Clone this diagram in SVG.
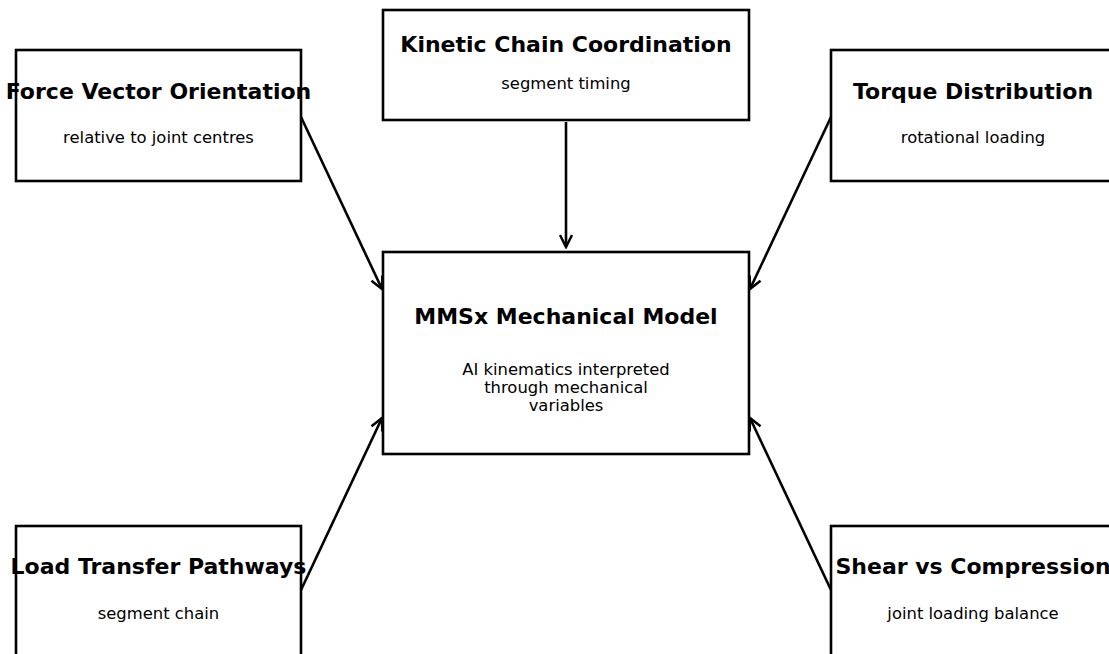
<svg xmlns="http://www.w3.org/2000/svg" width="1109" height="654" viewBox="0 0 1109 654">
<defs>
<marker id="arr" viewBox="-14 -8 16 16" markerWidth="16" markerHeight="16" refX="0" refY="0" orient="auto" markerUnits="userSpaceOnUse">
<path d="M-12,-6 L0,0 L-12,6" fill="none" stroke="#000" stroke-width="2.5"/>
</marker>
<style>
.box{fill:#fff;stroke:#000;stroke-width:2.6}
.t{font-family:"DejaVu Sans",sans-serif;font-weight:bold;font-size:22px;text-anchor:middle;fill:#000}
.s{font-family:"DejaVu Sans",sans-serif;font-size:16.4px;text-anchor:middle;fill:#000}
.c{fill:none;stroke:#000;stroke-width:2.6}
</style>
</defs>
<rect width="1109" height="654" fill="#fff"/>
<g id="connectors">
<line class="c" x1="566" y1="122" x2="566" y2="247" marker-end="url(#arr)"/>
<line class="c" x1="301" y1="117" x2="382" y2="289" marker-end="url(#arr)"/>
<line class="c" x1="831" y1="117" x2="750" y2="289" marker-end="url(#arr)"/>
<line class="c" x1="301" y1="590" x2="382" y2="418" marker-end="url(#arr)"/>
<line class="c" x1="831" y1="590" x2="750" y2="418" marker-end="url(#arr)"/>
</g>
<g id="force">
<rect class="box" x="16" y="50" width="285" height="131"/>
<text class="t" x="158.5" y="98.5">Force Vector Orientation</text>
<text class="s" x="158.5" y="142.5">relative to joint centres</text>
</g>
<g id="kinetic">
<rect class="box" x="383" y="10" width="366" height="110"/>
<text class="t" x="566" y="51.5">Kinetic Chain Coordination</text>
<text class="s" x="566" y="89">segment timing</text>
</g>
<g id="torque">
<rect class="box" x="831" y="50" width="285" height="131"/>
<text class="t" x="973" y="98.5">Torque Distribution</text>
<text class="s" x="973" y="142.5">rotational loading</text>
</g>
<g id="model">
<rect class="box" x="383" y="252" width="366" height="202"/>
<text class="t" x="566" y="323.5">MMSx Mechanical Model</text>
<text class="s" x="566" y="375">AI kinematics interpreted</text>
<text class="s" x="566" y="393">through mechanical</text>
<text class="s" x="566" y="411">variables</text>
</g>
<g id="load">
<rect class="box" x="16" y="526" width="285" height="140"/>
<text class="t" x="158.5" y="573.5">Load Transfer Pathways</text>
<text class="s" x="158.5" y="618.5">segment chain</text>
</g>
<g id="shear">
<rect class="box" x="831" y="526" width="285" height="140"/>
<text class="t" x="973" y="573.5">Shear vs Compression</text>
<text class="s" x="973" y="618.5">joint loading balance</text>
</g>
</svg>
